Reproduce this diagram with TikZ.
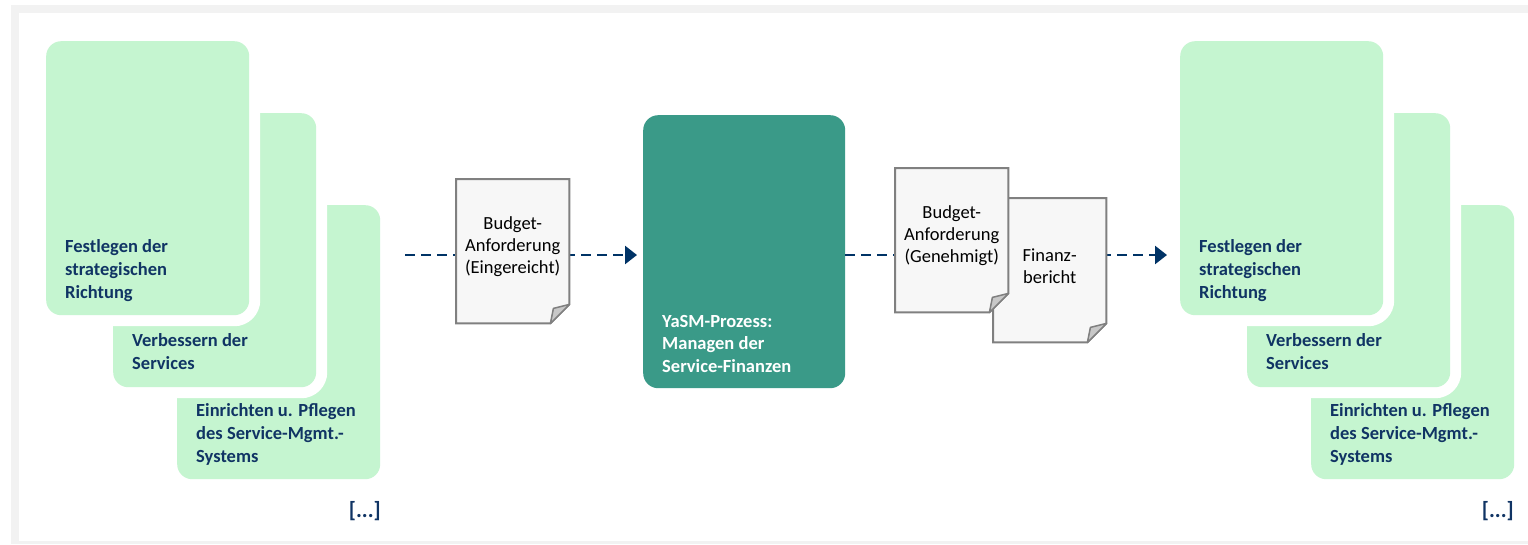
\documentclass[tikz,border=0pt]{standalone}
\usepackage{fontspec}
\setmainfont{Carlito}
\usetikzlibrary{arrows.meta}
\definecolor{navy}{RGB}{16,52,100}
\definecolor{arrownavy}{RGB}{0,51,102}
\definecolor{mint}{RGB}{197,245,208}
\definecolor{tealbox}{RGB}{58,154,136}
\definecolor{framegray}{RGB}{242,242,242}
\definecolor{docfill}{RGB}{247,247,247}
\definecolor{docline}{RGB}{128,128,128}
\definecolor{foldfill}{RGB}{200,200,200}
\newcommand{\mylines}[2]{\begin{tabular}[t]{@{}#1@{}}#2\end{tabular}}
\newcommand{\docpaper}[1]{%
  \filldraw[docpath] (#1.north west) -- (#1.north east) -- ([yshift=19pt]#1.south east)
    -- ([xshift=-19pt]#1.south east) -- (#1.south west) -- cycle;
  \filldraw[foldpath] ([yshift=19pt]#1.south east) -- ([xshift=-19pt]#1.south east)
    -- ([xshift=-16pt,yshift=15pt]#1.south east) -- cycle;}
\begin{document}
\begin{tikzpicture}[x=1pt,y=-1pt,
  greenbox/.style={rectangle, rounded corners=15pt, inner sep=0pt, anchor=north west,
    minimum width=203pt, minimum height=274pt, fill=mint},
  haloed/.style={preaction={draw=white, line width=22pt}},
  procbox/.style={rectangle, rounded corners=15pt, inner sep=0pt, anchor=north west,
    minimum width=202pt, minimum height=273pt, fill=tealbox},
  docbox/.style={rectangle, inner sep=0pt, anchor=north west, minimum width=113pt, minimum height=144pt},
  docpath/.style={draw=docline, fill=docfill, line width=2pt, line join=miter},
  foldpath/.style={draw=docline, fill=foldfill, line width=1.5pt, line join=round},
  lbl/.style={inner sep=0pt, anchor=base west, text=navy, font=\fontsize{18.5}{23}\bfseries\selectfont},
  plbl/.style={inner sep=0pt, anchor=base west, text=white, font=\fontsize{18.5}{22.5}\bfseries\selectfont},
  dlbl/.style={inner sep=0pt, anchor=base, text=black, font=\fontsize{18.5}{22}\selectfont},
  dotslbl/.style={inner sep=0pt, anchor=base east, text=navy, font=\fontsize{22}{26}\bfseries\selectfont},
  flow/.style={draw=arrownavy, line width=2.6pt, dash pattern=on 10pt off 6pt,
    -{Triangle[length=12pt,width=18pt]}}
]
\useasboundingbox (0,0) rectangle (1528,544);
% frame
\fill[framegray] (11,5) rectangle (1528,544);
\fill[white] (19,13) rectangle (1528,541);

% left group
\node[greenbox] (l3) at (177,205) {};
\node[greenbox, haloed] (l2) at (113,113) {};
\node[greenbox, haloed] (l1) at (46,41) {};
\node[lbl] (l1t) at (65,252) {\mylines{l}{Festlegen der\\strategischen\\Richtung}};
\node[lbl] (l2t) at (132,346) {\mylines{l}{Verbessern der\\Services}};
\node[lbl] (l3t) at (196,416) {\mylines{l}{Einrichten u. Pflegen\\des Service-Mgmt.-\\Systems}};
\node[dotslbl] (ldots) at (381,517) {[...]};

% right group
\node[greenbox] (r3) at (1311,205) {};
\node[greenbox, haloed] (r2) at (1247,113) {};
\node[greenbox, haloed] (r1) at (1180,41) {};
\node[lbl] (r1t) at (1199,252) {\mylines{l}{Festlegen der\\strategischen\\Richtung}};
\node[lbl] (r2t) at (1266,346) {\mylines{l}{Verbessern der\\Services}};
\node[lbl] (r3t) at (1330,416) {\mylines{l}{Einrichten u. Pflegen\\des Service-Mgmt.-\\Systems}};
\node[dotslbl] (rdots) at (1514,517) {[...]};

% process box
\node[procbox] (cbox) at (643,115) {};
\node[plbl] (ct) at (662,327) {\mylines{l}{YaSM-Prozess:\\Managen der\\Service-Finanzen}};

% connectors
\coordinate (lstart) at (405,255);
\draw[flow, shorten >=6pt] (lstart) -- (lstart -| cbox.west);
\draw[flow, shorten >=13pt] (cbox.east |- lstart) -- (r1.west |- lstart);

% documents
\node[docbox] (d1) at (456,179) {};
\docpaper{d1}
\node[dlbl] (d1t) at (d1.north |- 0,229) {\mylines{c}{Budget-\\Anforderung\\(Eingereicht)}};

\node[docbox] (d3) at (993,198) {};
\docpaper{d3}
\node[docbox] (d2) at (895,168) {};
\docpaper{d2}
\node[dlbl] (d2t) at (d2.north |- 0,218) {\mylines{c}{Budget-\\Anforderung\\(Genehmigt)}};
\node[dlbl] (d3t) at (d3.north |- 0,261) {\mylines{c}{Finanz-\\bericht}};
\end{tikzpicture}
\end{document}
